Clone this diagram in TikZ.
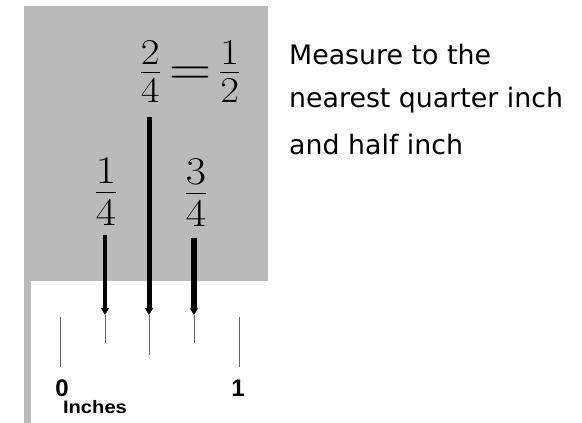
\RequirePackage{fix-cm}
\documentclass[tikz,border=0pt]{standalone}
\usepackage{amsmath}
\usepackage{graphicx}
\usepackage{fontspec}
\usepackage{tikz}
\usetikzlibrary{arrows.meta}
\newfontfamily\notefont{DejaVu Sans}
\newfontfamily\rulefont{Liberation Sans}
\definecolor{panel}{gray}{0.73}
\newcommand{\wfrac}[1]{\scalebox{1.12}[1]{$#1$}}
\tikzset{
  ptr/.style={line width=#1,-{Triangle[length=7pt,width=8pt]}},
  tick/.style={draw=gray!80!black,line width=1pt},
  frac/.style={inner sep=0pt,font=\fontsize{#1}{60}\selectfont},
  num/.style={inner sep=0pt,font=\rulefont\bfseries\fontsize{24}{26}\selectfont},
  note/.style={inner sep=0pt,anchor=west,font=\notefont\fontsize{26.8}{30}\selectfont}
}

\begin{document}
\begin{tikzpicture}[x=1pt,y=-1pt]
\useasboundingbox (0,0) rectangle (582,423);
\fill[panel] (24,6) rectangle (268,281); \fill[panel] (24,281) rectangle (31,423);
% labels
\node[frac=52] (half) at (190,72) {\wfrac{\tfrac{2}{4}\mskip-2.5mu=\mskip-2.5mu\tfrac{1}{2}}};
\node[frac=56] (q1) at (106,192) {\wfrac{\tfrac{1}{4}}};
\node[frac=56] (q3) at (196,193) {\wfrac{\tfrac{3}{4}}};
% ruler
\coordinate (t0) at (60,317); \coordinate (t1) at (105,315); \coordinate (t2) at (149,315);
\coordinate (t3) at (194,315); \coordinate (t4) at (239,317);
\draw[tick] (t0) -- ++(0,50); \draw[tick] (t1) -- ++(0,28); \draw[tick] (t2) -- ++(0,40);
\draw[tick] (t3) -- ++(0,28); \draw[tick] (t4) -- ++(0,50);
\node[num] (n0) at (62,388) {0}; \node[num] (n1) at (238,388) {1};
\node[num,font=\rulefont\bfseries\fontsize{18}{20}\selectfont] (unit) at (95,407) {\scalebox{1.12}[1]{Inches}};
% pointers
\coordinate (a1) at (105,235); \coordinate (a2) at (149,117); \coordinate (a3) at (194,238);
\draw[ptr=4pt] (a1) -- (t1); \draw[ptr=5pt] (a2) -- (t2); \draw[ptr=6.5pt] (a3) -- (t3);
% note
\node[note] (l1) at (289,55) {Measure to the};
\node[note] (l2) at (289,100) {nearest quarter inch};
\node[note] (l3) at (289,145) {and half inch};
\end{tikzpicture}
\end{document}
